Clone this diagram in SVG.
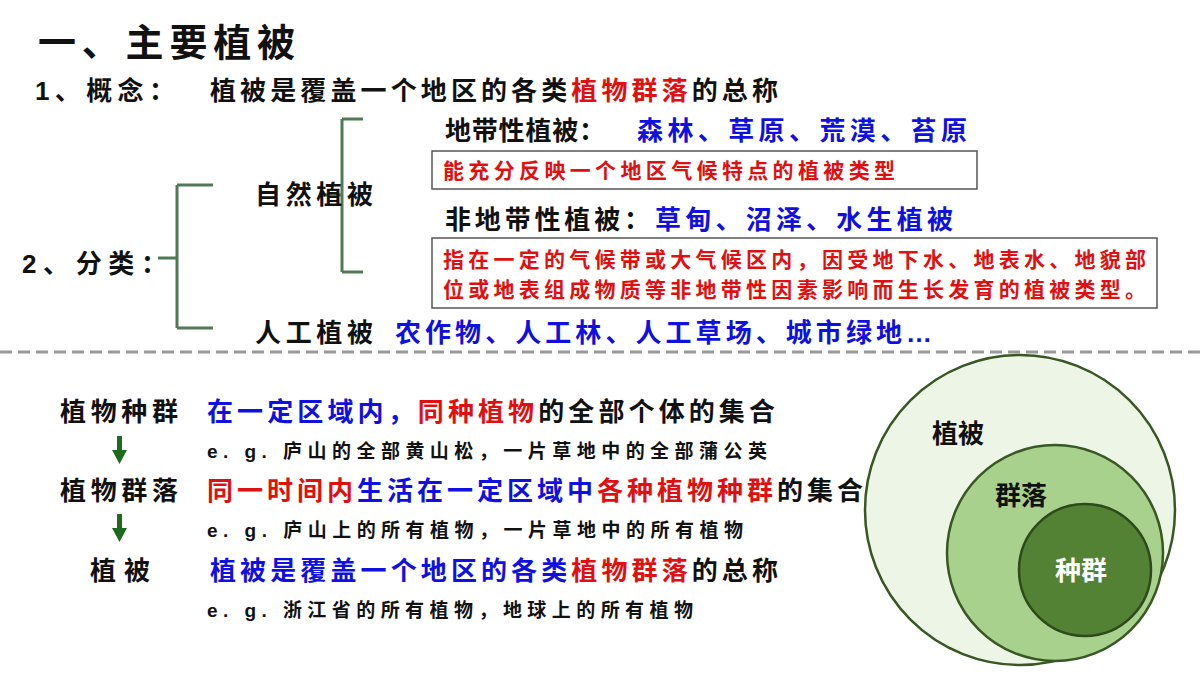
<svg xmlns="http://www.w3.org/2000/svg" width="1200" height="675" viewBox="0 0 1200 675">
<defs>
<style>
text{font-family:"Liberation Sans","Noto Sans CJK SC",sans-serif;font-weight:bold;fill:#111}
.b{fill:#1010e0}.r{fill:#e01010}.k{fill:#111}
.m{font-size:26px}.s{font-size:21px}.e{font-size:19px}
.br{fill:none;stroke:#507a55;stroke-width:3}
.ar{fill:#1e6b1e}
</style>
</defs>
<rect width="1200" height="675" fill="#fff"/>
<text x="38" y="56" style="font-size:38px" textLength="257" lengthAdjust="spacing">一、主要植被</text>
<text x="35" y="100" class="m" textLength="140" lengthAdjust="spacing">1、概念：</text>
<text x="210" y="100" class="m" textLength="568" lengthAdjust="spacing">植被是覆盖一个地区的各类<tspan class="r">植物群落</tspan>的总称</text>
<g id="connectors">
<path class="br" d="M158,258 L177,258 M177,185 L177,328 M177,185 L213,185 M177,328 L213,328"/>
<path class="br" d="M322,195 L342,195 M342,119 L342,272 M342,119 L363,119 M342,272 L363,272"/>
<line x1="0" y1="352" x2="1200" y2="352" stroke="#999" stroke-width="3" stroke-dasharray="12,6"/>
<path class="ar" d="M117,436 h5 v14 h5 l-7.5,14 l-7.5,-14 h5z"/>
<path class="ar" d="M117,514 h5 v14 h5 l-7.5,14 l-7.5,-14 h5z"/>
</g>
<g id="classify">
<text x="22" y="273" class="m" textLength="145" lengthAdjust="spacing">2、分类：</text>
<text x="255" y="204" class="m" textLength="118" lengthAdjust="spacing">自然植被</text>
<text x="445" y="140" class="m" textLength="160" lengthAdjust="spacing">地带性植被：</text>
<text x="637" y="140" class="m b" textLength="330" lengthAdjust="spacing">森林、草原、荒漠、苔原</text>
<rect x="432" y="151" width="545" height="38" fill="#fff" stroke="#555" stroke-width="1.5"/>
<text x="443" y="178" class="s r" textLength="452" lengthAdjust="spacing">能充分反映一个地区气候特点的植被类型</text>
<text x="445" y="229" class="m" textLength="205" lengthAdjust="spacing">非地带性植被：</text>
<text x="655" y="229" class="m b" textLength="298" lengthAdjust="spacing">草甸、沼泽、水生植被</text>
<rect x="432" y="238" width="725" height="70" fill="#fff" stroke="#555" stroke-width="1.5"/>
<text x="443" y="267" class="s r" textLength="703" lengthAdjust="spacing">指在一定的气候带或大气候区内，因受地下水、地表水、地貌部</text>
<text x="443" y="297" class="s r" textLength="703" lengthAdjust="spacing">位或地表组成物质等非地带性因素影响而生长发育的植被类型。</text>
<text x="255" y="342" class="m" textLength="118" lengthAdjust="spacing">人工植被</text>
<text x="395" y="342" class="m b" textLength="537" lengthAdjust="spacing">农作物、人工林、人工草场、城市绿地…</text>
</g>
<g id="levels">
<text x="60" y="421" class="m" textLength="118" lengthAdjust="spacing">植物种群</text>
<text x="207" y="421" class="m b" textLength="568" lengthAdjust="spacing">在一定区域内，<tspan class="r">同种植物</tspan><tspan class="k">的全部个体的集合</tspan></text>
<text x="207" y="458" class="e" textLength="560" lengthAdjust="spacing">e. g.  庐山的全部黄山松，一片草地中的全部蒲公英</text>
<text x="60" y="500" class="m" textLength="118" lengthAdjust="spacing">植物群落</text>
<text x="207" y="500" class="m r" textLength="656" lengthAdjust="spacing">同一时间内<tspan class="b">生活在一定区域中</tspan>各种植物种群<tspan class="k">的集合</tspan></text>
<text x="207" y="537" class="e" textLength="536" lengthAdjust="spacing">e. g.  庐山上的所有植物，一片草地中的所有植物</text>
<text x="90" y="580" class="m" textLength="60" lengthAdjust="spacing">植被</text>
<text x="210" y="580" class="m b" textLength="568" lengthAdjust="spacing">植被是覆盖一个地区的各类<tspan class="r">植物群落</tspan><tspan class="k">的总称</tspan></text>
<text x="207" y="617" class="e" textLength="486" lengthAdjust="spacing">e. g.  浙江省的所有植物，地球上的所有植物</text>
</g>
<g id="circles">
<circle cx="1020" cy="510" r="155" fill="#edf5e6" stroke="#385723" stroke-width="2.5"/>
<circle cx="1055" cy="553" r="108" fill="#a9d18e" stroke="#385723" stroke-width="2.5"/>
<circle cx="1085" cy="570" r="66" fill="#548235" stroke="#2e4a1c" stroke-width="2.5"/>
<text x="932" y="443" class="m">植被</text>
<text x="995" y="505" class="m">群落</text>
<text x="1055" y="580" class="m" style="fill:#fff">种群</text>
</g>
</svg>
